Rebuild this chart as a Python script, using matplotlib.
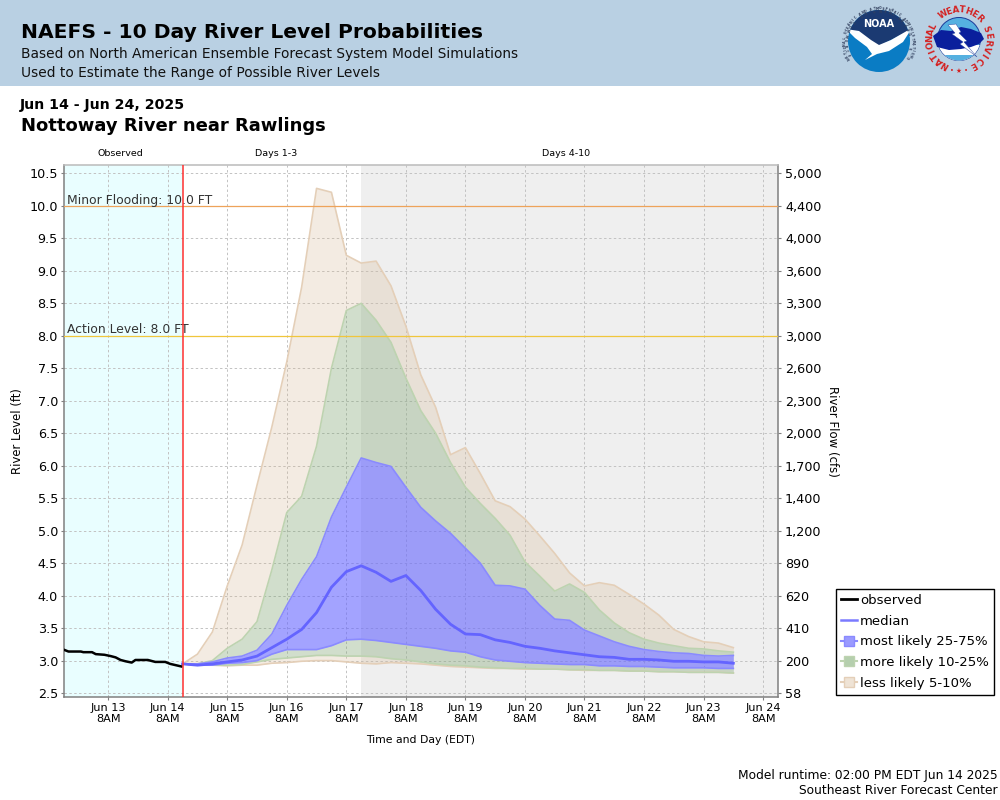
"""NAEFS 10 day river level probabilities, Nottoway River near Rawlings."""
import numpy as np
import pandas as pd
import matplotlib
matplotlib.use("Agg")
import matplotlib.pyplot as plt
from matplotlib.lines import Line2D
from matplotlib.patches import Circle, Polygon

# observed stage: hours after Jun 13 8AM, feet
obs_hours = [-18, -16, -11, -10, -6.5, -5, -1.5, 1, 3, 5, 7, 9.5, 11, 16, 19, 23, 25, 29.5]
obs_level = [3.17, 3.14, 3.14, 3.13, 3.13, 3.10, 3.09, 3.07, 3.05, 3.01, 2.99, 2.97, 3.01,
             3.01, 2.98, 2.98, 2.95, 2.91]

# forecast, one value per 6 hours from Jun 14 2PM
p95 = [2.95, 3.10, 3.44, 4.15, 4.78, 5.70, 6.60, 7.60, 8.75, 10.27, 10.21, 9.24, 9.12, 9.15,
       8.77, 8.15, 7.40, 6.90, 6.17, 6.28, 5.88, 5.46, 5.37, 5.18, 4.92, 4.65, 4.35, 4.15,
       4.20, 4.16, 4.02, 3.87, 3.70, 3.48, 3.37, 3.29, 3.27, 3.20]
p90 = [2.95, 2.95, 3.00, 3.19, 3.33, 3.60, 4.40, 5.28, 5.53, 6.30, 7.50, 8.39, 8.50, 8.24,
       7.90, 7.35, 6.85, 6.50, 6.05, 5.67, 5.42, 5.19, 4.93, 4.52, 4.30, 4.07, 4.18, 4.05,
       3.78, 3.58, 3.43, 3.33, 3.27, 3.23, 3.19, 3.18, 3.15, 3.13]
p75 = [2.95, 2.95, 2.98, 3.04, 3.07, 3.16, 3.41, 3.85, 4.25, 4.60, 5.21, 5.67, 6.12, 6.05,
       5.99, 5.67, 5.36, 5.15, 4.96, 4.73, 4.50, 4.16, 4.15, 4.10, 3.85, 3.64, 3.62, 3.47,
       3.38, 3.29, 3.22, 3.17, 3.14, 3.12, 3.11, 3.08, 3.07, 3.08]
p50 = [2.95, 2.93, 2.95, 2.98, 3.01, 3.07, 3.20, 3.33, 3.48, 3.74, 4.13, 4.37, 4.46, 4.36,
       4.22, 4.31, 4.08, 3.79, 3.56, 3.41, 3.40, 3.32, 3.28, 3.22, 3.19, 3.15, 3.12, 3.09,
       3.06, 3.05, 3.02, 3.02, 3.01, 2.99, 2.99, 2.98, 2.98, 2.96]
p25 = [2.95, 2.93, 2.93, 2.96, 2.97, 3.00, 3.10, 3.17, 3.17, 3.17, 3.23, 3.32, 3.33, 3.31,
       3.28, 3.25, 3.22, 3.19, 3.15, 3.13, 3.06, 3.01, 2.99, 2.97, 2.96, 2.95, 2.94, 2.94,
       2.92, 2.92, 2.91, 2.91, 2.90, 2.89, 2.89, 2.89, 2.88, 2.88]
p10 = [2.95, 2.93, 2.93, 2.93, 2.94, 2.98, 3.02, 3.04, 3.06, 3.08, 3.08, 3.07, 3.07, 3.06,
       3.03, 3.01, 2.98, 2.95, 2.93, 2.92, 2.90, 2.89, 2.88, 2.88, 2.87, 2.87, 2.86, 2.86,
       2.85, 2.85, 2.84, 2.84, 2.83, 2.83, 2.82, 2.82, 2.82, 2.81]
p05 = [2.95, 2.93, 2.93, 2.92, 2.93, 2.93, 2.96, 2.97, 2.99, 3.00, 3.00, 2.98, 2.96, 2.95,
       2.97, 2.96, 2.95, 2.93, 2.91, 2.90, 2.89, 2.88, 2.88, 2.87, 2.87, 2.87, 2.86, 2.85,
       2.85, 2.85, 2.84, 2.84, 2.83, 2.83, 2.82, 2.82, 2.82, 2.81]

level_ticks = [2.5, 3.0, 3.5, 4.0, 4.5, 5.0, 5.5, 6.0, 6.5, 7.0, 7.5, 8.0, 8.5, 9.0, 9.5, 10.0, 10.5]
flow_labels = ["58", "200", "410", "620", "890", "1,200", "1,400", "1,700", "2,000", "2,300",
               "2,600", "3,000", "3,300", "3,600", "4,000", "4,400", "5,000"]
day_names = ["Jun 13", "Jun 14", "Jun 15", "Jun 16", "Jun 17", "Jun 18", "Jun 19", "Jun 20",
             "Jun 21", "Jun 22", "Jun 23", "Jun 24"]

T0 = pd.Timestamp("2025-06-13 08:00")
T_NOW = pd.Timestamp("2025-06-14 14:00")
T_DAY3 = pd.Timestamp("2025-06-17 14:00")
T_START = T0 + pd.Timedelta(hours=-18)
T_END = pd.Timestamp("2025-06-24 14:00")

TAN_FILL, TAN_EDGE = (0.84, 0.72, 0.58, 0.27), "#e4cfb8"
GREEN_FILL, GREEN_EDGE = (0.50, 0.65, 0.45, 0.36), "#bdd3b0"
BLUE_FILL, BLUE_EDGE = (0.40, 0.40, 1.0, 0.60), "#8a8aff"

plt.rcParams["font.family"] = "DejaVu Sans"
fig = plt.figure(figsize=(10, 8), dpi=100)

# page overlay in pixel coordinates
pg = fig.add_axes([0, 0, 1, 1], zorder=0)
pg.set_xlim(0, 1000); pg.set_ylim(800, 0); pg.axis("off")
pg.fill_between([0, 1000], 0, 86, color="#b9d0e3", lw=0)
pg.text(21, 33, "NAEFS - 10 Day River Level Probabilities", fontsize=14.6, fontweight="bold", va="center")
pg.text(21, 54, "Based on North American Ensemble Forecast System Model Simulations", fontsize=9.95, va="center", color="#111111")
pg.text(21, 73, "Used to Estimate the Range of Possible River Levels", fontsize=9.95, va="center", color="#111111")
pg.text(20, 105, "Jun 14 - Jun 24, 2025", fontsize=10.2, fontweight="bold", va="center")
pg.text(21, 126, "Nottoway River near Rawlings", fontsize=13, fontweight="bold", va="center")
pg.text(120, 154, "Observed", fontsize=6.8, ha="center", va="center")
pg.text(276, 154, "Days 1-3", fontsize=6.8, ha="center", va="center")
pg.text(566, 154, "Days 4-10", fontsize=6.8, ha="center", va="center")
pg.text(18, 431, "River Level (ft)", fontsize=8.4, rotation=90, ha="center", va="center")
pg.text(832, 431, "River Flow (cfs)", fontsize=8.5, rotation=270, ha="center", va="center")
pg.text(421, 740, "Time and Day (EDT)", fontsize=7.8, ha="center", va="center")
pg.text(998, 775, "Model runtime: 02:00 PM EDT Jun 14 2025", fontsize=8.85, ha="right", va="center")
pg.text(998, 791, "Southeast River Forecast Center", fontsize=8.85, ha="right", va="center")


def ring_text(cx, cy, r, text, start, step, size, color, bottom=False):
    for i, ch in enumerate(text):
        th = start + i * step
        rad = np.radians(th)
        rot = 180 - th if bottom else -th
        pg.text(cx + r * np.sin(rad), cy - r * np.cos(rad), ch, fontsize=size, color=color,
                rotation=rot, ha="center", va="center", fontweight="bold", rotation_mode="anchor")


def shape(cx, cy, pts, clip=None, **kw):
    poly = Polygon([[cx + a, cy + b] for a, b in pts], **kw)
    pg.add_patch(poly)
    if clip is not None:
        poly.set_clip_path(clip)


# NOAA logo
nx, ny = 879, 41
disc = Circle((nx, ny), 31, fc="#0a7cc4", ec="none")
pg.add_patch(disc)
shape(nx, ny, [[-33, -34], [33, -34], [33, -12], [0, 5], [-33, -12]], clip=disc, fc="#1b3a72", ec="none")
shape(nx, ny, [[-33, -12], [-20, -10], [-8, -1], [0, 4], [12, -1], [33, -13], [24, 1], [10, 10], [-2, 13],
               [-14, 19], [-7, 13], [-12, 6], [-24, -3]], clip=disc, fc="white", ec="none")
pg.text(nx, ny - 17, "NOAA", fontsize=7, fontweight="bold", color="white", ha="center", va="center")
ring_text(nx, ny + 1.5, 34, "NATIONAL OCEANIC AND ATMOSPHERIC ADMINISTRATION", -118, 5.0, 2.3, "#33415f")
ring_text(nx, ny + 1.5, 34, "U.S. DEPARTMENT OF COMMERCE", 118, -8.9, 2.3, "#33415f", bottom=True)

# NWS logo
wx, wy = 959, 39
inner = Circle((wx, wy), 21.5, fc="#55b0e0", ec="#1b3a9a", lw=0.7)
pg.add_patch(inner)
shape(wx, wy, [[-22, 6], [22, 6], [22, 23], [-22, 23]], clip=inner, fc="white", ec="none")
shape(wx, wy, [[-14, 16], [14, 16], [14, 23], [-14, 23]], clip=inner, fc="#55b0e0", ec="none")
shape(wx, wy, [[-26, -3], [-18, -9], [-8, -8], [2, -12], [12, -10], [22, -6], [25, 0], [20, 5], [12, 8],
               [2, 10], [-10, 11], [-22, 8]], fc="#0a1f9c", ec="none")
shape(wx, wy, [[-11, -14], [-3, -15], [2, -7], [0, -6], [8, 2], [5, 3], [18, 18], [1, 5], [4, 3], [-7, -5],
               [-4, -6]], fc="white", ec="#1b3a9a", lw=0.3)
ring_text(wx, wy, 29, "NATIONAL", -150, 12.3, 6.2, "#d42020")
ring_text(wx, wy, 29, "WEATHER", -33, 13, 6.2, "#d42020")
ring_text(wx, wy, 29, "SERVICE", 69, 13.6, 6.2, "#d42020")
pg.text(wx, wy + 32, "• ★ •", fontsize=4.8, color="#d42020", ha="center", va="center")

# main chart
L, R, T, B = 63.5, 778, 165, 697
ax = fig.add_axes([L / 1000, 1 - B / 800, (R - L) / 1000, (B - T) / 800], zorder=2)
ax.patch.set_alpha(0)
ax.set_xlim(T_START, T_END)
ax.set_ylim(2.44, 10.63)

times = pd.date_range(T_NOW, periods=len(p50), freq="6h")
obs_times = [T0 + pd.Timedelta(hours=h) for h in obs_hours]
ticks = pd.date_range(T0, periods=len(day_names), freq="24h")

ax.axvspan(T_START, T_NOW, color="#e9feff", lw=0, zorder=0)
ax.axvspan(T_DAY3, T_END, color="#efefef", lw=0, zorder=0)
ax.grid(True, color="#c2c2c2", ls=(0, (2.5, 2.5)), lw=0.7, zorder=1)
ax.set_axisbelow(True)

ax.fill_between(times, p90, p95, color=TAN_FILL, lw=0, zorder=2)
ax.fill_between(times, p05, p10, color=TAN_FILL, lw=0, zorder=2)
ax.fill_between(times, p75, p90, color=GREEN_FILL, lw=0, zorder=2)
ax.fill_between(times, p10, p25, color=GREEN_FILL, lw=0, zorder=2)
ax.fill_between(times, p25, p75, color=BLUE_FILL, lw=0, zorder=2)
for series, col in [(p95, TAN_EDGE), (p05, TAN_EDGE), (p90, GREEN_EDGE), (p10, GREEN_EDGE),
                    (p75, BLUE_EDGE), (p25, BLUE_EDGE)]:
    ax.plot(times, series, color=col, lw=1.2, zorder=3)
ax.plot(times, p50, color="#6464ff", lw=2.0, zorder=4)
ax.plot(obs_times, obs_level, color="black", lw=1.8, zorder=5)

ax.axhline(10.0, color="#eea35a", lw=0.9, zorder=3)
ax.axhline(8.0, color="#f0c63c", lw=0.9, zorder=3)
ax.axvline(T_NOW, color="#ff3030", lw=1.1, zorder=6)
ax.text(T_START + pd.Timedelta(hours=1.5), 10.09, "Minor Flooding: 10.0 FT", fontsize=8.9, color="#333333", va="center")
ax.text(T_START + pd.Timedelta(hours=1.5), 8.09, "Action Level: 8.0 FT", fontsize=8.9, color="#333333", va="center")

ax.set_yticks(level_ticks)
ax.set_yticklabels([f"{v:.1f}" for v in level_ticks])
ax.set_xticks(ticks)
ax.set_xticklabels([f"{d}\n8AM" for d in day_names])
ax.tick_params(axis="x", labelsize=8.1, color="#808080", length=2.5, pad=1.5)
ax.tick_params(axis="y", labelsize=9.2, color="#808080", length=2.5, pad=1.5)
for s in ax.spines.values():
    s.set_color("#808080"); s.set_linewidth(1.1)
ax.spines["top"].set_color("#bbbbbb")

ax2 = ax.twinx()
ax2.set_ylim(ax.get_ylim())
ax2.set_yticks(level_ticks)
ax2.set_yticklabels(flow_labels)
ax2.tick_params(axis="y", labelsize=9.2, color="#808080", length=2.5, pad=2.5)
for s in ax2.spines.values():
    s.set_visible(False)

handles = [
    Line2D([0], [0], color="black", lw=2),
    Line2D([0], [0], color="#7a7aff", lw=1.8),
    Line2D([0], [0], color=BLUE_EDGE, lw=1.5, marker="s", ms=6.5, mfc="#9a9aff", mec="#8a8aff"),
    Line2D([0], [0], color=GREEN_EDGE, lw=1.5, marker="s", ms=6.5, mfc="#b5cfae", mec=GREEN_EDGE),
    Line2D([0], [0], color=TAN_EDGE, lw=1.5, marker="s", ms=6.5, mfc="#efe3d5", mec=TAN_EDGE),
]
names = ["observed", "median", "most likely 25-75%", "more likely 10-25%", "less likely 5-10%"]
leg = fig.legend(handles, names, loc="lower left", bbox_to_anchor=(835.5 / 1000, 1 - 695 / 800), fontsize=9.55,
                 frameon=True, fancybox=False, edgecolor="black", framealpha=1, borderpad=0.4,
                 labelspacing=0.58, handlelength=1.2, handletextpad=0.25, borderaxespad=0)
leg.get_frame().set_linewidth(1)

fig.savefig("out.png", dpi=100)
